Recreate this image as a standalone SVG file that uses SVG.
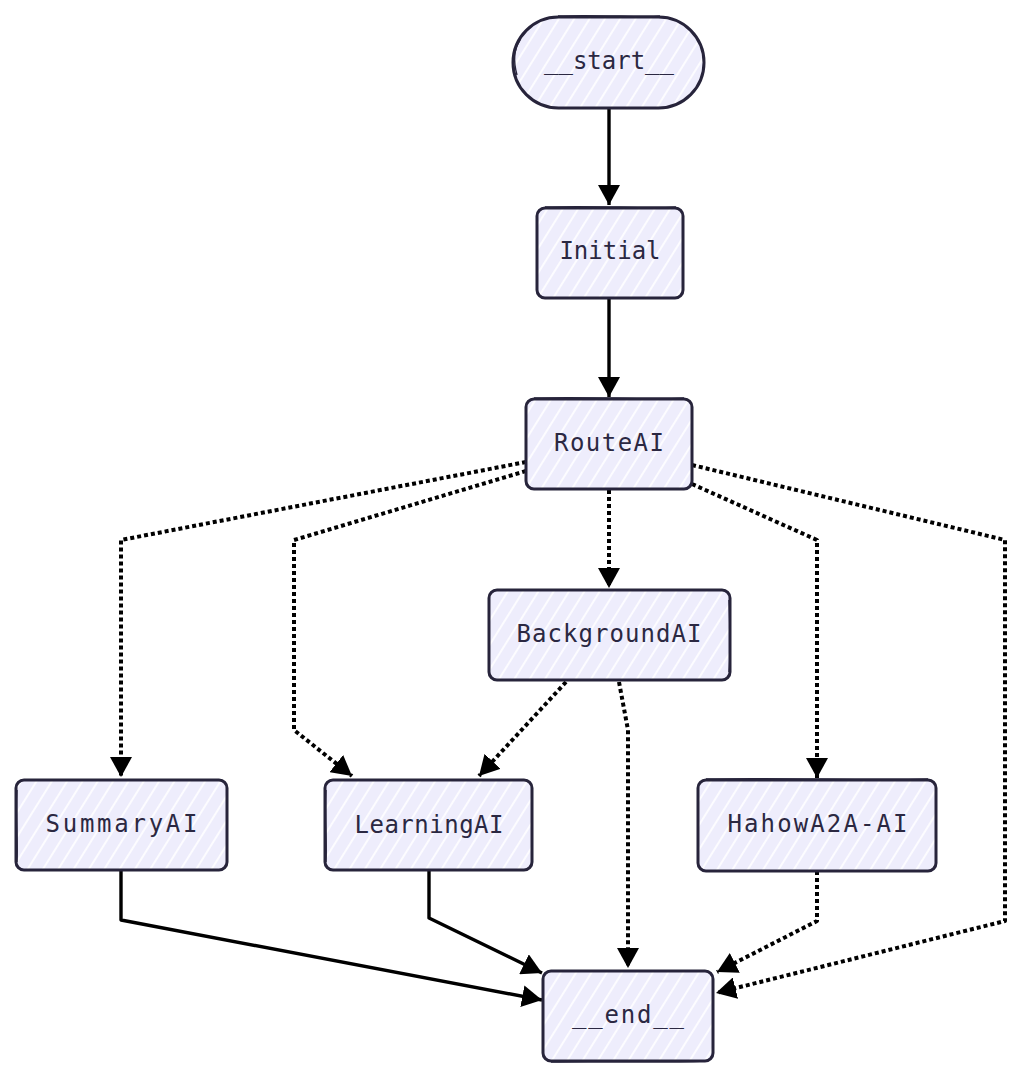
<svg xmlns="http://www.w3.org/2000/svg" width="1024" height="1082" viewBox="0 0 1024 1082">
  <defs>
    <pattern id="hatch" width="13" height="13" patternUnits="userSpaceOnUse" patternTransform="rotate(32)">
      <rect width="13" height="13" fill="#eeedfc"/>
      <line x1="3" y1="0" x2="3" y2="13" stroke="#ffffff" stroke-width="1.8" stroke-opacity="0.95"/>
    </pattern>
    <marker id="arrow" markerUnits="userSpaceOnUse" markerWidth="20" markerHeight="22" refX="20" refY="11" orient="auto">
      <path d="M0,0 L20,11 L0,22 Z" fill="#000000"/>
    </marker>
  </defs>
  <style>
    .node rect { fill: url(#hatch); stroke: #27243b; stroke-width: 3; }
    .node .sk { fill: none; stroke: #27243b; stroke-width: 1.4; }
    .node text { font-family: "DejaVu Sans Mono", "Liberation Mono", monospace; font-size: 24px; fill: #2b2842; text-anchor: middle; }
    .edge { fill: none; stroke: #000000; stroke-width: 3.4; stroke-linejoin: round; marker-end: url(#arrow); }
    .dotted { stroke-dasharray: 4 3; stroke-width: 4; }
  </style>
  <rect width="1024" height="1082" fill="#ffffff"/>

  <g id="connectors">
    <path class="edge" d="M609,108 L609,205"/>
    <path class="edge" d="M609,298 L609,397"/>
    <path class="edge dotted" d="M526,462 L121,540 L121,777"/>
    <path class="edge dotted" d="M526,471 L294,540 L294,730 L352,776"/>
    <path class="edge dotted" d="M609,490 L609,588"/>
    <path class="edge dotted" d="M692,484 L817,540 L817,778"/>
    <path class="edge dotted" d="M692,465 L1005,540 L1005,921 L716,993"/>
    <path class="edge dotted" d="M566,682 L479,776"/>
    <path class="edge dotted" d="M619,682 L628,730 L628,968"/>
    <path class="edge" d="M121,871 L121,920 L542,1000"/>
    <path class="edge" d="M429,871 L429,918 L542,973"/>
    <path class="edge dotted" d="M817,871 L817,921 L717,972"/>
  </g>

  <g id="node-start" class="node">
    <rect x="513" y="17" width="191" height="91" rx="45.5" ry="45.5"/>
    <path class="sk" d="M558,16 C600,15 640,17 660,16 M517,75 C513,60 514,50 520,40"/>
    <text x="609" y="69" textLength="130" lengthAdjust="spacing">__start__</text>
  </g>

  <g id="node-Initial" class="node">
    <rect x="537" y="208" width="146" height="90" rx="8" ry="8"/>
    <path class="sk" d="M545,207 C600,206 640,208 676,207"/>
    <text x="610" y="259">Initial</text>
  </g>

  <g id="node-RouteAI" class="node">
    <rect x="526" y="399" width="166" height="90" rx="8" ry="8"/>
    <path class="sk" d="M534,398 C590,397 640,399 684,398"/>
    <text x="609" y="451" textLength="110" lengthAdjust="spacing">RouteAI</text>
  </g>

  <g id="node-BackgroundAI" class="node">
    <rect x="489" y="590" width="241" height="90" rx="8" ry="8"/>
    <path class="sk" d="M729,600 C730,630 731,650 729,672"/>
    <text x="609" y="642" textLength="185" lengthAdjust="spacing">BackgroundAI</text>
  </g>

  <g id="node-SummaryAI" class="node">
    <rect x="16" y="780" width="211" height="90" rx="8" ry="8"/>
    <path class="sk" d="M17,790 C16,820 18,845 17,862"/>
    <text x="121.5" y="832" textLength="152" lengthAdjust="spacing">SummaryAI</text>
  </g>

  <g id="node-LearningAI" class="node">
    <rect x="325" y="780" width="207" height="90" rx="8" ry="8"/>
    <path class="sk" d="M326,790 C325,820 327,845 326,862"/>
    <text x="429" y="833" textLength="149" lengthAdjust="spacing">LearningAI</text>
  </g>

  <g id="node-HahowA2A-AI" class="node">
    <rect x="698" y="780" width="238" height="91" rx="8" ry="8"/>
    <path class="sk" d="M706,779 C780,778 860,780 928,779"/>
    <text x="817.5" y="832" textLength="180" lengthAdjust="spacing">HahowA2A-AI</text>
  </g>

  <g id="node-end" class="node">
    <rect x="543" y="971" width="170" height="90" rx="8" ry="8"/>
    <path class="sk" d="M551,1062 C600,1061 660,1063 705,1061"/>
    <text x="628" y="1023" textLength="112" lengthAdjust="spacing">__end__</text>
  </g>
</svg>
